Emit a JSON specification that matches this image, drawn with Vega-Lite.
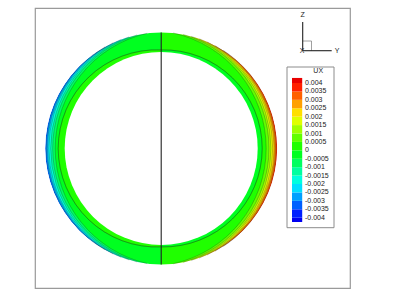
{
"$schema":"https://vega.github.io/schema/vega-lite/v6.json",
"width":315,"height":280,"autosize":"none",
"padding":{"left":35,"top":8,"right":60,"bottom":1},
"background":"white",
"config":{"view":{"stroke":"#9a9a9a","strokeWidth":1.2},"font":"Liberation Sans"},
"datasets":{
"bands":[
{"side":"L","ux":-0.00325,"cx":0,"r":116,"t0":3.1416,"t1":6.2832},
{"side":"L","ux":-0.00275,"cx":1.96,"r":116.96,"t0":3.1584,"t1":6.2664,"lineLevel":-0.003,"l0":3.66,"l1":5.7648},
{"side":"L","ux":-0.00225,"cx":3.84,"r":117.64,"t0":3.1743,"t1":6.2505,"lineLevel":-0.0025,"l0":3.5979,"l1":5.8269},
{"side":"L","ux":-0.00175,"cx":5.68,"r":118.08,"t0":3.1897,"t1":6.2351,"lineLevel":-0.002,"l0":3.5388,"l1":5.886},
{"side":"L","ux":-0.00125,"cx":7.94,"r":118.44,"t0":3.2087,"t1":6.2161,"lineLevel":-0.0015,"l0":3.4856,"l1":5.9392},
{"side":"L","ux":-0.00075,"cx":9.96,"r":118.46,"t0":3.2258,"t1":6.199,"lineLevel":-0.001,"l0":3.4324,"l1":5.9924},
{"side":"L","ux":-0.00025,"cx":12.07,"r":118.07,"t0":3.244,"t1":6.1808,"lineLevel":-0.0005,"l0":3.3642,"l1":6.0606},
{"side":"R","ux":0.00375,"cx":0,"r":116,"t0":0,"t1":3.1416},
{"side":"R","ux":0.00325,"cx":-1.74,"r":116.94,"t0":0.0149,"t1":3.1267,"lineLevel":0.0035,"l0":0.5764,"l1":2.5652},
{"side":"R","ux":0.00275,"cx":-3.44,"r":117.64,"t0":0.0292,"t1":3.1124,"lineLevel":0.003,"l0":0.5101,"l1":2.6315},
{"side":"R","ux":0.00225,"cx":-5.13,"r":118.13,"t0":0.0434,"t1":3.0982,"lineLevel":0.0025,"l0":0.4476,"l1":2.694},
{"side":"R","ux":0.00175,"cx":-6.97,"r":118.47,"t0":0.0589,"t1":3.0827,"lineLevel":0.002,"l0":0.3893,"l1":2.7523},
{"side":"R","ux":0.00125,"cx":-8.77,"r":118.57,"t0":0.074,"t1":3.0676,"lineLevel":0.0015,"l0":0.3331,"l1":2.8085},
{"side":"R","ux":0.00075,"cx":-10.69,"r":118.49,"t0":0.0903,"t1":3.0513,"lineLevel":0.001,"l0":0.2795,"l1":2.8621},
{"side":"R","ux":0.00025,"cx":-13.07,"r":118.07,"t0":0.1109,"t1":3.0307,"lineLevel":0.0005,"l0":0.2139,"l1":2.9277}
],
"patches":[
{"ux":-0.00025,"r":116,"r2":99,"t0":6.2432,"t1":6.2832},
{"ux":-0.00025,"r":116,"r2":99,"t0":3.1416,"t1":3.1816},
{"ux":0.00025,"r":116,"r2":99,"t0":0,"t1":0.04},
{"ux":0.00025,"r":116,"r2":99,"t0":3.1016,"t1":3.1416}
],
"inner":[
{"ux":0.00025,"cx":-4.4,"r":98.6,"t0":3.097,"t1":6.3278,"l0":3.097,"l1":6.3278},
{"ux":-0.00025,"cx":2.47,"r":98.53,"t0":-0.0251,"t1":3.1667,"l0":-0.0251,"l1":3.1667}
],
"lines":[
{"name":"split","x":0,"y":-116,"x2":0,"y2":116},
{"name":"Z axis","x":141.5,"y":97.7,"x2":141.5,"y2":126.4},
{"name":"Y axis","x":141.5,"y":97.7,"x2":170.5,"y2":97.7}
],
"box":[
{"x":141.5,"y":107.4,"x2":150.3,"y2":107.4},
{"x":150.3,"y":97.7,"x2":150.3,"y2":107.4}
],
"labels":[
{"t":"Z","x":141.5,"y":133},
{"t":"Y","x":176,"y":97.7},
{"t":"X","x":141,"y":97.7}
],
"legendBox":[{"x0":125.8,"x1":172.8,"top":0.00495,"bottom":-0.004594}],
"legendBands":[
{"ux":-0.00413,"lo":-0.004255,"hi":-0.004},
{"ux":-0.00375,"lo":-0.004,"hi":-0.0035},
{"ux":-0.00325,"lo":-0.0035,"hi":-0.003},
{"ux":-0.00275,"lo":-0.003,"hi":-0.0025},
{"ux":-0.00225,"lo":-0.0025,"hi":-0.002},
{"ux":-0.00175,"lo":-0.002,"hi":-0.0015},
{"ux":-0.00125,"lo":-0.0015,"hi":-0.001},
{"ux":-0.00075,"lo":-0.001,"hi":-0.0005},
{"ux":-0.00025,"lo":-0.0005,"hi":0},
{"ux":0.00025,"lo":0,"hi":0.0005},
{"ux":0.00075,"lo":0.0005,"hi":0.001},
{"ux":0.00125,"lo":0.001,"hi":0.0015},
{"ux":0.00175,"lo":0.0015,"hi":0.002},
{"ux":0.00225,"lo":0.002,"hi":0.0025},
{"ux":0.00275,"lo":0.0025,"hi":0.003},
{"ux":0.00325,"lo":0.003,"hi":0.0035},
{"ux":0.00375,"lo":0.0035,"hi":0.004},
{"ux":0.00415,"lo":0.004,"hi":0.0043}
],
"legendLabels":[
{"t":"UX","x":157,"v":0.00469,"kind":"title"},
{"t":"0.004","v":0.004},{"t":"0.0035","v":0.0035},{"t":"0.003","v":0.003},{"t":"0.0025","v":0.0025},{"t":"0.002","v":0.002},{"t":"0.0015","v":0.0015},{"t":"0.001","v":0.001},{"t":"0.0005","v":0.0005},{"t":"0","v":0},{"t":"-0.0005","v":-0.0005},{"t":"-0.001","v":-0.001},{"t":"-0.0015","v":-0.0015},{"t":"-0.002","v":-0.002},{"t":"-0.0025","v":-0.0025},{"t":"-0.003","v":-0.003},{"t":"-0.0035","v":-0.0035},{"t":"-0.004","v":-0.004}
]
},
"layer":[
{"layer":[
{"data":{"name":"bands"},"mark":{"type":"arc"},
 "encoding":{
  "x":{"field":"cx","type":"quantitative","stack":null,"scale":{"domain":[-126.2,188.8],"nice":false,"zero":false},"axis":null},
  "y":{"datum":0,"type":"quantitative","stack":null,"scale":{"domain":[-139.6,140.4],"nice":false,"zero":false},"axis":null},
  "radius":{"field":"r","type":"quantitative","stack":null,"scale":{"type":"linear","domain":[0,130],"range":[0,130]}},
  "theta":{"field":"t0","type":"quantitative","stack":null,"scale":null},
  "theta2":{"field":"t1"},
  "fill":{"field":"ux","type":"quantitative","legend":null,"scale":{"type":"threshold",
    "domain":[-0.004,-0.0035,-0.003,-0.0025,-0.002,-0.0015,-0.001,-0.0005,0,0.0005,0.001,0.0015,0.002,0.0025,0.003,0.0035,0.004],
    "range":["#0000f0","#0020ff","#0060ff","#00a0ff","#00dfff","#00ffdf","#00ffa0","#00ff60","#00ff20","#20ff00","#60ff00","#a0ff00","#dfff00","#ffdf00","#ffa000","#ff6000","#ff2000","#e80000"]}}
 }},
{"data":{"name":"patches"},"mark":{"type":"arc"},
 "encoding":{
  "x":{"datum":0,"type":"quantitative","stack":null},"y":{"datum":0,"type":"quantitative","stack":null},
  "radius":{"field":"r","type":"quantitative","stack":null,"scale":{"type":"linear","domain":[0,130],"range":[0,130]}},"radius2":{"field":"r2"},
  "theta":{"field":"t0","type":"quantitative","stack":null,"scale":null},"theta2":{"field":"t1"},
  "fill":{"field":"ux","type":"quantitative","legend":null,"scale":{"type":"threshold",
    "domain":[-0.004,-0.0035,-0.003,-0.0025,-0.002,-0.0015,-0.001,-0.0005,0,0.0005,0.001,0.0015,0.002,0.0025,0.003,0.0035,0.004],
    "range":["#0000f0","#0020ff","#0060ff","#00a0ff","#00dfff","#00ffdf","#00ffa0","#00ff60","#00ff20","#20ff00","#60ff00","#a0ff00","#dfff00","#ffdf00","#ffa000","#ff6000","#ff2000","#e80000"]}}
 }},
{"data":{"name":"inner"},"mark":{"type":"arc"},
 "encoding":{
  "x":{"field":"cx","type":"quantitative","stack":null},"y":{"datum":0,"type":"quantitative","stack":null},
  "radius":{"field":"r","type":"quantitative","stack":null,"scale":{"type":"linear","domain":[0,130],"range":[0,130]}},
  "theta":{"field":"t0","type":"quantitative","stack":null,"scale":null},"theta2":{"field":"t1"},
  "fill":{"field":"ux","type":"quantitative","legend":null,"scale":{"type":"threshold",
    "domain":[-0.004,-0.0035,-0.003,-0.0025,-0.002,-0.0015,-0.001,-0.0005,0,0.0005,0.001,0.0015,0.002,0.0025,0.003,0.0035,0.004],
    "range":["#0000f0","#0020ff","#0060ff","#00a0ff","#00dfff","#00ffdf","#00ffa0","#00ff60","#00ff20","#20ff00","#60ff00","#a0ff00","#dfff00","#ffdf00","#ffa000","#ff6000","#ff2000","#e80000"]}}
 }},
{"data":{"values":[{"part":"hole","a":0,"b":96.5,"t0":0,"t1":6.2832},{"part":"mask","a":116,"b":121,"t0":0,"t1":6.2832}]},
 "mark":{"type":"arc","fill":"white"},
 "encoding":{
  "x":{"datum":0,"type":"quantitative"},"y":{"datum":0,"type":"quantitative"},
  "radius":{"field":"b","type":"quantitative","stack":null,"scale":{"type":"linear","domain":[0,130],"range":[0,130]}},"radius2":{"field":"a"},
  "theta":{"field":"t0","type":"quantitative","stack":null,"scale":null},"theta2":{"field":"t1"}
 }},
{"data":{"name":"bands"},"transform":[{"filter":"isValid(datum.lineLevel)"}],
 "mark":{"type":"arc","filled":false,"stroke":"#1c2a1c","strokeWidth":0.3,"strokeOpacity":0.5},
 "encoding":{
  "x":{"field":"cx","type":"quantitative","stack":null},"y":{"datum":0,"type":"quantitative","stack":null},
  "radius":{"field":"r","type":"quantitative","stack":null,"scale":{"type":"linear","domain":[0,130],"range":[0,130]}},"radius2":{"field":"r"},
  "theta":{"field":"l0","type":"quantitative","stack":null,"scale":null},"theta2":{"field":"l1"}
 }},
{"data":{"name":"inner"},
 "mark":{"type":"arc","filled":false,"stroke":"#1c2a1c","strokeWidth":0.35,"strokeOpacity":0.75},
 "encoding":{
  "x":{"field":"cx","type":"quantitative","stack":null},"y":{"datum":0,"type":"quantitative","stack":null},
  "radius":{"field":"r","type":"quantitative","stack":null,"scale":{"type":"linear","domain":[0,130],"range":[0,130]}},"radius2":{"field":"r"},
  "theta":{"field":"l0","type":"quantitative","stack":null,"scale":null},"theta2":{"field":"l1"}
 }},
{"data":{"name":"box"},"mark":{"type":"rule","stroke":"#888","strokeWidth":0.8},
 "encoding":{"x":{"field":"x","type":"quantitative"},"y":{"field":"y","type":"quantitative"},"x2":{"field":"x2"},"y2":{"field":"y2"}}},
{"data":{"name":"lines"},"mark":{"type":"rule","stroke":"#222","strokeWidth":1.1},
 "encoding":{"x":{"field":"x","type":"quantitative"},"y":{"field":"y","type":"quantitative"},"x2":{"field":"x2"},"y2":{"field":"y2"}}},
{"data":{"name":"labels"},"mark":{"type":"text","font":"Liberation Sans","fontSize":7,"color":"#222","align":"center","baseline":"middle"},
 "encoding":{"x":{"field":"x","type":"quantitative"},"y":{"field":"y","type":"quantitative"},"text":{"field":"t"}}}
]},
{"layer":[
{"data":{"name":"legendBox"},"mark":{"type":"rect","fill":"white","stroke":"#8c8c8c","strokeWidth":1},
 "encoding":{
  "x":{"field":"x0","type":"quantitative"},"x2":{"field":"x1"},
  "y":{"field":"top","type":"quantitative","scale":{"domain":[-0.008175,0.008454],"nice":false,"zero":false},"axis":null},"y2":{"field":"bottom"}
 }},
{"data":{"name":"legendBands"},"mark":{"type":"rect","stroke":null},
 "encoding":{
  "x":{"datum":130.8,"type":"quantitative"},"x2":{"datum":141},
  "y":{"field":"hi","type":"quantitative"},"y2":{"field":"lo"},
  "fill":{"field":"ux","type":"quantitative","legend":null,"scale":{"type":"threshold",
    "domain":[-0.004,-0.0035,-0.003,-0.0025,-0.002,-0.0015,-0.001,-0.0005,0,0.0005,0.001,0.0015,0.002,0.0025,0.003,0.0035,0.004],
    "range":["#0000f0","#0020ff","#0060ff","#00a0ff","#00dfff","#00ffdf","#00ffa0","#00ff60","#00ff20","#20ff00","#60ff00","#a0ff00","#dfff00","#ffdf00","#ffa000","#ff6000","#ff2000","#e80000"]}}
 }},
{"data":{"name":"legendLabels"},"transform":[{"filter":"datum.kind!=='title'"}],
 "mark":{"type":"text","font":"Liberation Sans","fontSize":7,"color":"#222","align":"left","baseline":"middle"},
 "encoding":{"x":{"datum":143.8,"type":"quantitative"},"y":{"field":"v","type":"quantitative"},"text":{"field":"t"}}},
{"data":{"name":"legendLabels"},"transform":[{"filter":"datum.kind==='title'"}],
 "mark":{"type":"text","font":"Liberation Sans","fontSize":7,"color":"#222","align":"center","baseline":"middle"},
 "encoding":{"x":{"field":"x","type":"quantitative"},"y":{"field":"v","type":"quantitative"},"text":{"field":"t"}}}
]}
],
"resolve":{"scale":{"y":"independent","x":"shared","fill":"shared"}}
}
